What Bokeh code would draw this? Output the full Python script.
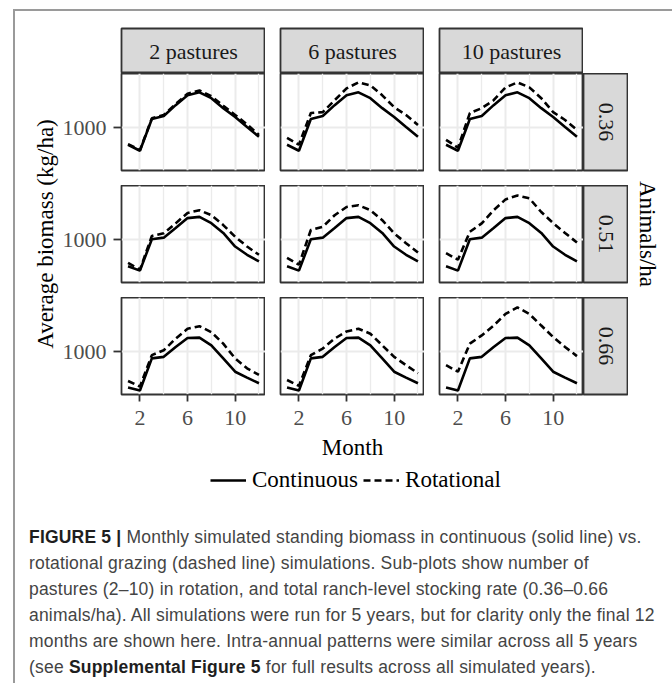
import math
from bokeh.plotting import figure
from bokeh.models import Range1d, LinearAxis, FixedTicker, Grid, Label, Legend, LegendItem, Div, Spacer
from bokeh.layouts import row, column
from bokeh.embed import file_html
from bokeh.resources import INLINE

# ---------------- data ----------------
months = [1, 2, 3, 4, 5, 6, 7, 8, 9, 10, 11, 12]
pastures = ["2 pastures", "6 pastures", "10 pastures"]
animals_per_ha = ["0.36", "0.51", "0.66"]
month_ticks = [2, 6, 10]
month_minor = [4, 8, 12]
biomass_ticks = [1000]

continuous_036 = [860, 810, 1074, 1099, 1190, 1272, 1297, 1248, 1165, 1091, 1008, 926]
continuous_051 = [780, 744, 1006, 1019, 1099, 1182, 1192, 1140, 1058, 945, 876, 821]
continuous_066 = [703, 678, 946, 959, 1041, 1116, 1119, 1055, 946, 835, 786, 739]

rotational_036_p2 = [865, 815, 1080, 1108, 1200, 1285, 1312, 1265, 1185, 1108, 1030, 942]
rotational_036_p6 = [918, 860, 1124, 1132, 1231, 1330, 1380, 1355, 1272, 1173, 1107, 1025]
rotational_036_p10 = [901, 835, 1124, 1165, 1231, 1338, 1380, 1338, 1248, 1132, 1066, 984]

rotational_051_p2 = [808, 752, 1033, 1055, 1138, 1225, 1248, 1206, 1124, 1027, 945, 876]
rotational_051_p6 = [851, 794, 1083, 1110, 1206, 1275, 1289, 1248, 1165, 1055, 973, 895]
rotational_051_p10 = [890, 835, 1068, 1138, 1248, 1338, 1371, 1347, 1233, 1140, 1058, 978]

rotational_066_p2 = [758, 711, 973, 1014, 1111, 1193, 1215, 1165, 1069, 946, 863, 808]
rotational_066_p6 = [766, 717, 973, 1028, 1111, 1171, 1193, 1152, 1055, 959, 890, 822]
rotational_066_p10 = [890, 835, 1069, 1138, 1220, 1317, 1371, 1317, 1220, 1124, 1041, 965]

continuous = [continuous_036, continuous_051, continuous_066]
rotational = [
    [rotational_036_p2, rotational_036_p6, rotational_036_p10],
    [rotational_051_p2, rotational_051_p6, rotational_051_p10],
    [rotational_066_p2, rotational_066_p6, rotational_066_p10],
]

# ---------------- style ----------------
SERIF = "Liberation Serif"
BORDER = "#333333"
GRIDC = "#ebebeb"
STRIP_FILL = "#d9d9d9"
PANEL_W, PANEL_H = 144, 97
LEFT_W = 62
GAP = 15
AX_H = 40
STRIP = 45
TOP_PAD = 17
LINE_W = 2.6
DASH = "7 4"


def base_fig(w, h, left=0, right=0, top=0, bottom=0, xr=(0, 1), yr=(0, 1)):
    p = figure(width=w, height=h, x_range=Range1d(*xr), y_range=Range1d(*yr),
               x_axis_location=None, y_axis_location=None,
               toolbar_location=None, output_backend="svg",
               min_border_left=left, min_border_right=right,
               min_border_top=top, min_border_bottom=bottom)
    p.center = []          # drop default grids
    p.border_fill_color = "white"
    p.background_fill_color = "white"
    p.outline_line_color = None
    return p


def panel(r, c):
    left = LEFT_W if c == 0 else GAP
    bottom = AX_H if r == 2 else GAP
    p = base_fig(left + PANEL_W, PANEL_H + bottom, left=left, bottom=bottom,
                 xr=(0.45, 12.55), yr=(645, 1454))
    p.outline_line_color = BORDER
    p.outline_line_width = 1.8
    p.add_layout(Grid(dimension=0, ticker=FixedTicker(ticks=month_ticks, minor_ticks=month_minor),
                      grid_line_color=GRIDC, grid_line_width=2,
                      minor_grid_line_color=GRIDC, minor_grid_line_width=1.3))
    p.add_layout(Grid(dimension=1, ticker=FixedTicker(ticks=biomass_ticks, minor_ticks=[500, 1500]),
                      grid_line_color=GRIDC, grid_line_width=2,
                      minor_grid_line_color=GRIDC, minor_grid_line_width=1.3))
    p.line(months, continuous[r], line_color="black", line_width=LINE_W)
    p.line(months, rotational[r][c], line_color="black", line_width=LINE_W, line_dash=DASH)
    if c == 0:
        ax = LinearAxis(ticker=FixedTicker(ticks=biomass_ticks), axis_line_color=None,
                        major_tick_line_color=BORDER, major_tick_line_width=1.8,
                        major_tick_out=8, major_tick_in=0, minor_tick_line_color=None,
                        major_label_text_font=SERIF, major_label_text_font_size="22px",
                        major_label_text_color="#4d4d4d", major_label_standoff=7)
        p.add_layout(ax, "left")
    if r == 2:
        ax = LinearAxis(ticker=FixedTicker(ticks=month_ticks), axis_line_color=None,
                        major_tick_line_color=BORDER, major_tick_line_width=1.8,
                        major_tick_out=7, major_tick_in=0, minor_tick_line_color=None,
                        major_label_text_font=SERIF, major_label_text_font_size="22px",
                        major_label_text_color="#4d4d4d", major_label_standoff=9)
        p.add_layout(ax, "below")
    return p


def strip_top(c):
    left = LEFT_W if c == 0 else GAP
    p = base_fig(left + PANEL_W, TOP_PAD + STRIP, left=left, top=TOP_PAD)
    p.background_fill_color = STRIP_FILL
    p.outline_line_color = BORDER
    p.outline_line_width = 1.8
    p.add_layout(Label(x=0.5, y=0.5, text=pastures[c], text_align="center", text_baseline="middle",
                       text_font=SERIF, text_font_size="22px", text_color="#1a1a1a"))
    return p


def strip_right(r):
    bottom = AX_H if r == 2 else GAP
    p = base_fig(STRIP, PANEL_H + bottom, bottom=bottom)
    p.background_fill_color = STRIP_FILL
    p.outline_line_color = BORDER
    p.outline_line_width = 1.8
    p.add_layout(Label(x=0.5, y=0.5, text=animals_per_ha[r], angle=-math.pi / 2,
                       text_align="center", text_baseline="middle",
                       text_font=SERIF, text_font_size="22px", text_color="#1a1a1a"))
    return p


BLOCK_H = TOP_PAD + STRIP + 2 * (PANEL_H + GAP) + PANEL_H + AX_H  # 423
ROWS_MID = TOP_PAD + STRIP + (3 * PANEL_H + 2 * GAP) / 2.0

ylab = base_fig(44, BLOCK_H, xr=(0, 44), yr=(BLOCK_H, 0))
ylab.add_layout(Label(x=30, y=ROWS_MID, text="Average biomass (kg/ha)", angle=math.pi / 2,
                      text_align="center", text_baseline="middle",
                      text_font=SERIF, text_font_size="23px", text_color="black"))

alab = base_fig(40, BLOCK_H, xr=(0, 40), yr=(BLOCK_H, 0))
alab.add_layout(Label(x=19, y=ROWS_MID, text="Animals/ha", angle=-math.pi / 2,
                      text_align="center", text_baseline="middle",
                      text_font=SERIF, text_font_size="23px", text_color="black"))

strip_row = row(strip_top(0), strip_top(1), strip_top(2))
panel_rows = [row(panel(r, 0), panel(r, 1), panel(r, 2), strip_right(r)) for r in range(3)]
panels_block = column(strip_row, *panel_rows)
main = row(ylab, panels_block, alab)

# bottom: x title + legend
LEG_W = 3 * PANEL_W + 2 * GAP
BOT_H = 85
leg = base_fig(LEG_W, BOT_H, xr=(0, LEG_W), yr=(BOT_H, 0))
leg.add_layout(Label(x=LEG_W / 2.0, y=13, text="Month", text_align="center", text_baseline="middle",
                     text_font=SERIF, text_font_size="23px", text_color="black"))
# proxy renderers for the legend keys (drawn outside this figure's visible range)
r_cont = leg.line(months, continuous_036, line_color="black", line_width=LINE_W)
r_rot = leg.line(months, rotational_036_p2, line_color="black", line_width=LINE_W, line_dash=DASH)
legend = Legend(items=[LegendItem(label="Continuous", renderers=[r_cont]),
                       LegendItem(label="Rotational", renderers=[r_rot])],
                orientation="horizontal", location=(89, 26),
                glyph_width=36, glyph_height=20, label_height=20, label_standoff=6,
                spacing=5, padding=0, margin=0, border_line_color=None,
                background_fill_alpha=0, label_text_font=SERIF,
                label_text_font_size="23px", label_text_color="black")
leg.add_layout(legend)
bottom = row(Spacer(width=LEFT_W + 44, height=BOT_H), leg)

caption_lines = [
    "<b style='color:#1e1e1e'>FIGURE 5 |</b> Monthly simulated standing biomass in continuous (solid line) vs.",
    "rotational grazing (dashed line) simulations. Sub-plots show number of",
    "pastures (2\u201310) in rotation, and total ranch-level stocking rate (0.36\u20130.66",
    "animals/ha). All simulations were run for 5 years, but for clarity only the final 12",
    "months are shown here. Intra-annual patterns were similar across all 5 years",
    "(see <b style='color:#1e1e1e'>Supplemental Figure 5</b> for full results across all simulated years).",
]
caption_html = ("<div style=\"font-family:'Liberation Sans',Arial,sans-serif;font-size:17.5px;"
                "letter-spacing:0.2px;line-height:26px;color:#444444;padding-left:9px;"
                "white-space:nowrap;height:156px;overflow:hidden;\">"
                + "<br>".join(caption_lines) + "</div>")
caption = Div(text=caption_html, width=653, height=156)

root = column(main, bottom, caption, margin=(9, 0, 0, 13),
              styles={"border-left": "2px solid #9a9a9a", "border-top": "2px solid #9a9a9a",
                      "border-right": "2px solid #9a9a9a"})

open("out.html", "w").write(file_html(root, INLINE))
